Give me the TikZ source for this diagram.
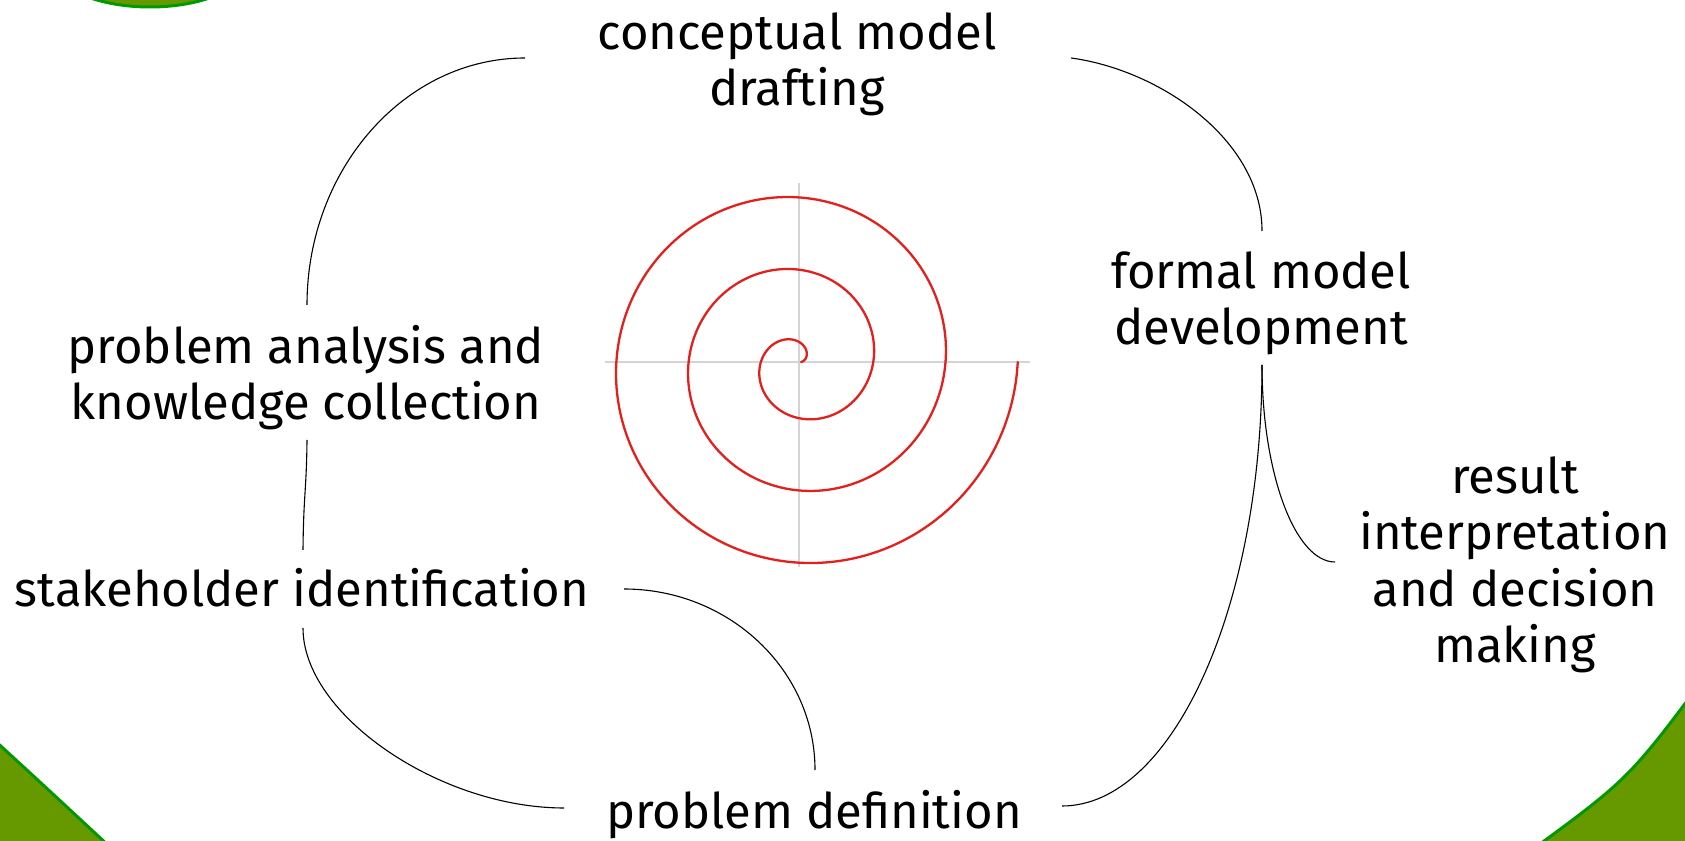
\documentclass[tikz,border=0pt]{standalone}
\usepackage{fontspec}
\setmainfont{Fira Sans}
\definecolor{leaf}{HTML}{669900}
\definecolor{leafedge}{HTML}{009900}
\definecolor{spiralred}{HTML}{E4201C}
\definecolor{axisgrey}{HTML}{D4D4D4}
\tikzset{
  lbl/.style={align=center, font=\fontsize{49}{56.5}\selectfont, inner sep=0pt, anchor=base},
  conn/.style={draw=black, line width=1.1pt},
  blob/.style={fill=leaf, draw=leafedge, line width=3pt},
  axisline/.style={draw=axisgrey, line width=1.5pt},
  spiralline/.style={draw=spiralred, line width=2.3pt, line join=round, line cap=round}
}
\begin{document}
\begin{tikzpicture}[x=1pt,y=1pt]
\useasboundingbox (0,0) rectangle (1685,840);
\begin{scope}
  \clip (0,0) rectangle (1685,840);
  \fill[white] (0,0) rectangle (1685,840);
  \path[blob] (150,880) ellipse [x radius=101, y radius=47];
  \path[blob] (-20,113) .. controls (40,58) .. (124,-20) -- (-20,-20) -- cycle;
  \path[blob] (1705,163) .. controls (1628,60) .. (1518,-20) -- (1705,-20) -- cycle;
\end{scope}

% spiral with axes
\coordinate (sc) at (799,478);
\draw[axisline] (605,478) -- (1030,478);
\draw[axisline] (799,657) -- (799,273);
\draw[spiralline] plot[domain=0:1080, samples=360, smooth, variable=\t]
  ({799 + (2 + 0.20071*\t)*cos(\t)}, {478 + (2 + 0.20071*\t)*sin(\t)});

% labels (base anchor = baseline of the last line)
\node[lbl] (cm) at (797,734) {conceptual model\\drafting};
\node[lbl] (fm) at (1261,495) {formal model\\development};
\node[lbl] (ri) at (1515,177) {result\\interpretation\\and decision\\making};
\node[lbl] (pa) at (306,420) {problem analysis and\\knowledge collection};
\node[lbl] (sh) at (302,233) {stakeholder identification};
\node[lbl] (pd) at (814,12) {problem definition};

% connector ends
\coordinate (cmW) at (525,782);
\coordinate (cmE) at (1071,782);
\coordinate (fmN) at (1262,609);
\coordinate (fmS) at (1262,475);
\coordinate (riW) at (1335,278);
\coordinate (paN) at (307,535);
\coordinate (paS) at (307,400);
\coordinate (shN) at (303,290);
\coordinate (shS) at (303,212);
\coordinate (shE) at (624,251);
\coordinate (pdN) at (815,70);
\coordinate (pdW) at (564,32);
\coordinate (pdE) at (1062,34);

\draw[conn] (cmW) .. controls (405,782) and (307,671) .. (paN);
\draw[conn] (cmE) .. controls (1160,770) and (1262,700) .. (fmN);
\draw[conn] (fmS) .. controls (1262,367) and (1295,278) .. (riW);
\draw[conn] (fmS) .. controls (1262,232) and (1172,34) .. (pdE);
\draw[conn] (paS) .. controls (306.5,350) and (303.5,345) .. (shN);
\draw[conn] (shS) .. controls (303,125) and (440,32) .. (pdW);
\draw[conn] (shE) .. controls (729,251) and (815,170) .. (pdN);
\end{tikzpicture}
\end{document}
